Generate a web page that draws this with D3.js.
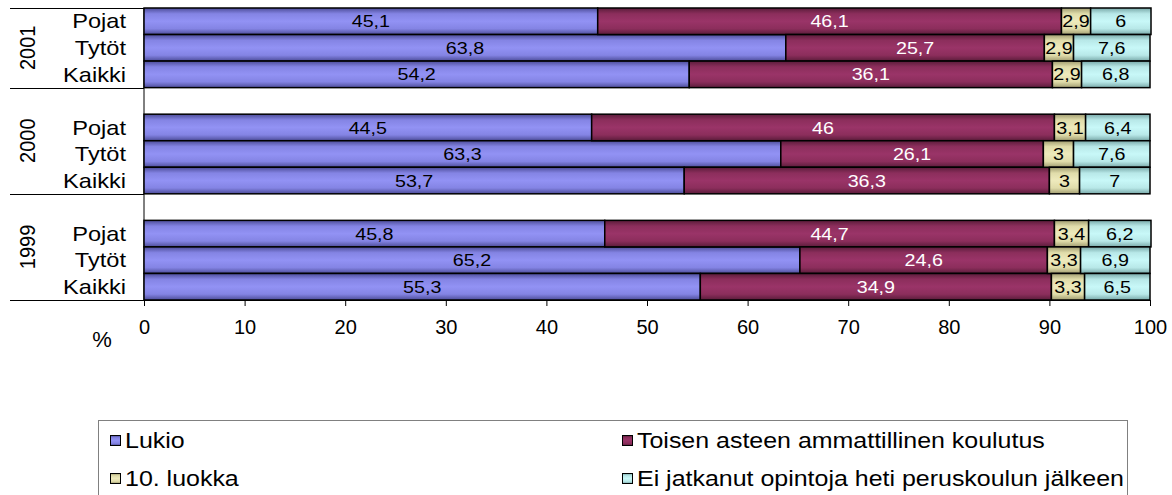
<!DOCTYPE html>
<html><head><meta charset="utf-8">
<script src="https://cdn.jsdelivr.net/npm/d3@7"></script>
<style>
html,body{margin:0;padding:0;background:#fff;}
svg{display:block;font-family:"Liberation Sans",Arial,sans-serif;}
</style></head>
<body>
<svg id="chart" width="1172" height="495"></svg>
<script>
const years = ["2001", "2000", "1999"];
const groups = ["Pojat", "Tytöt", "Kaikki"];
const seriesNames = ["Lukio", "Toisen asteen ammattillinen koulutus", "10. luokka", "Ei jatkanut opintoja heti peruskoulun jälkeen"];
// values per row in order 2001 Pojat, Tytöt, Kaikki, 2000 ..., 1999 ...
const lukio    = [45.1, 63.8, 54.2, 44.5, 63.3, 53.7, 45.8, 65.2, 55.3];
const toisen   = [46.1, 25.7, 36.1, 46, 26.1, 36.3, 44.7, 24.6, 34.9];
const luokka10 = [2.9, 2.9, 2.9, 3.1, 3, 3, 3.4, 3.3, 3.3];
const eiJatk   = [6, 7.6, 6.8, 6.4, 7.6, 7, 6.2, 6.9, 6.5];
const xTicks = [0, 10, 20, 30, 40, 50, 60, 70, 80, 90, 100];

const colors = [
  {edge:"#4c4c98", mid:"#8484e4", center:"#9292f4"},
  {edge:"#5a1c3a", mid:"#8c2e5c", center:"#9a3468"},
  {edge:"#a09c70", mid:"#e0dcaa", center:"#eeeabc"},
  {edge:"#78a8a8", mid:"#b8e8e8", center:"#c8f8f8"}
];
const labelColors = ["#000", "#fff", "#000", "#000"];

const slots = [];
const rows = [];
years.forEach((yr, yi) => {
  if (yi > 0) slots.push("gap" + yr);
  groups.forEach((g, gi) => {
    const key = yr + "|" + g;
    slots.push(key);
    const i = yi * groups.length + gi;
    rows.push({key, year: yr, group: g, s0: lukio[i], s1: toisen[i], s2: luokka10[i], s3: eiJatk[i]});
  });
});

const svg = d3.select("#chart");
const defs = svg.append("defs");
colors.forEach((c, i) => {
  const g = defs.append("linearGradient").attr("id", "g" + i).attr("x1", 0).attr("y1", 0).attr("x2", 0).attr("y2", 1);
  [[0, c.edge], [0.22, c.mid], [0.5, c.center], [0.78, c.mid], [1, c.edge]].forEach(([o, col]) =>
    g.append("stop").attr("offset", o).attr("stop-color", col));
});

const x = d3.scaleLinear().domain([0, 100]).range([144, 1150]);
const y = d3.scaleBand().domain(slots).range([8, 300]).padding(0);

// helper: horizontally stretched text
function stext(parent, tx, ty, str, size, sx, anchor, fill) {
  return parent.append("text")
    .attr("transform", `translate(${tx},${ty}) scale(${sx},1)`)
    .attr("dy", "0.36em").attr("text-anchor", anchor || "start")
    .attr("font-size", size).attr("fill", fill || "#000").text(str);
}

// axis bottom
const xAxis = d3.axisBottom(x).tickValues(xTicks).tickSize(6).tickSizeOuter(0).tickPadding(14).tickFormat(d3.format("d"));
const ax = svg.append("g").attr("transform", "translate(0,300)").call(xAxis);
ax.selectAll("text").attr("font-size", 20).attr("fill", "#000").attr("font-family", "Liberation Sans, Arial, sans-serif");
ax.selectAll("line").attr("stroke", "#000");
ax.select(".domain").attr("stroke", "#000");

// left axis line
svg.append("line").attr("x1", 144).attr("x2", 144).attr("y1", 8).attr("y2", 300).attr("stroke", "#000");

// group separators
const sepY = [y.range()[0], y("gap2000"), y("gap1999"), y.range()[1]];
svg.selectAll("line.sep").data(sepY).enter().append("line")
  .attr("x1", 10).attr("x2", 144).attr("y1", d => Math.round(d) + 0.5).attr("y2", d => Math.round(d) + 0.5)
  .attr("stroke", "#000");

// year labels
years.forEach((yr, i) => {
  const cy = (sepY[i] + sepY[i + 1]) / 2;
  svg.append("text").attr("transform", `translate(27,${cy}) rotate(-90) scale(1,1.06)`)
    .attr("text-anchor", "middle").attr("dy", "0.36em").attr("font-size", 20).text(yr);
});

// category labels
rows.forEach(d => stext(svg, 126, y(d.key) + y.bandwidth() / 2, d.group, 20, 1.18, "end"));

// stacked bars
const stack = d3.stack().keys(["s0", "s1", "s2", "s3"]);
const stacked = stack(rows);
const fmt = v => String(v).replace(".", ",");
stacked.forEach((layer, li) => {
  const g = svg.append("g");
  g.selectAll("rect").data(layer).enter().append("rect")
    .attr("x", d => x(d[0])).attr("y", d => y(d.data.key))
    .attr("width", d => x(d[1]) - x(d[0])).attr("height", y.bandwidth())
    .attr("fill", `url(#g${li})`).attr("stroke", "#000").attr("stroke-width", 1.5);
});
stacked.forEach((layer, li) => {
  const g = svg.append("g");
  layer.forEach(d => stext(g, (x(d[0]) + x(d[1])) / 2, y(d.data.key) + y.bandwidth() / 2,
    fmt(d.data["s" + li]), 17, 1.16, "middle", labelColors[li]));
});

// % label
svg.append("text").attr("x", 102).attr("y", 339).attr("dy", "0.36em").attr("text-anchor", "middle").attr("font-size", 22).text("%");

// legend
svg.append("rect").attr("x", 98.5).attr("y", 420.5).attr("width", 1029).attr("height", 90)
  .attr("fill", "none").attr("stroke", "#808080");
const legPos = [[110, 440], [622, 440], [110, 478], [622, 478]];
seriesNames.forEach((n, i) => {
  const [lx, ly] = legPos[i];
  svg.append("rect").attr("x", lx + 0.5).attr("y", ly - 4.5).attr("width", 10).attr("height", 10)
    .attr("fill", `url(#g${i})`).attr("stroke", "#000");
  stext(svg, lx + 15, ly, n, 22, 1.135, "start");
});
</script>
</body></html>
